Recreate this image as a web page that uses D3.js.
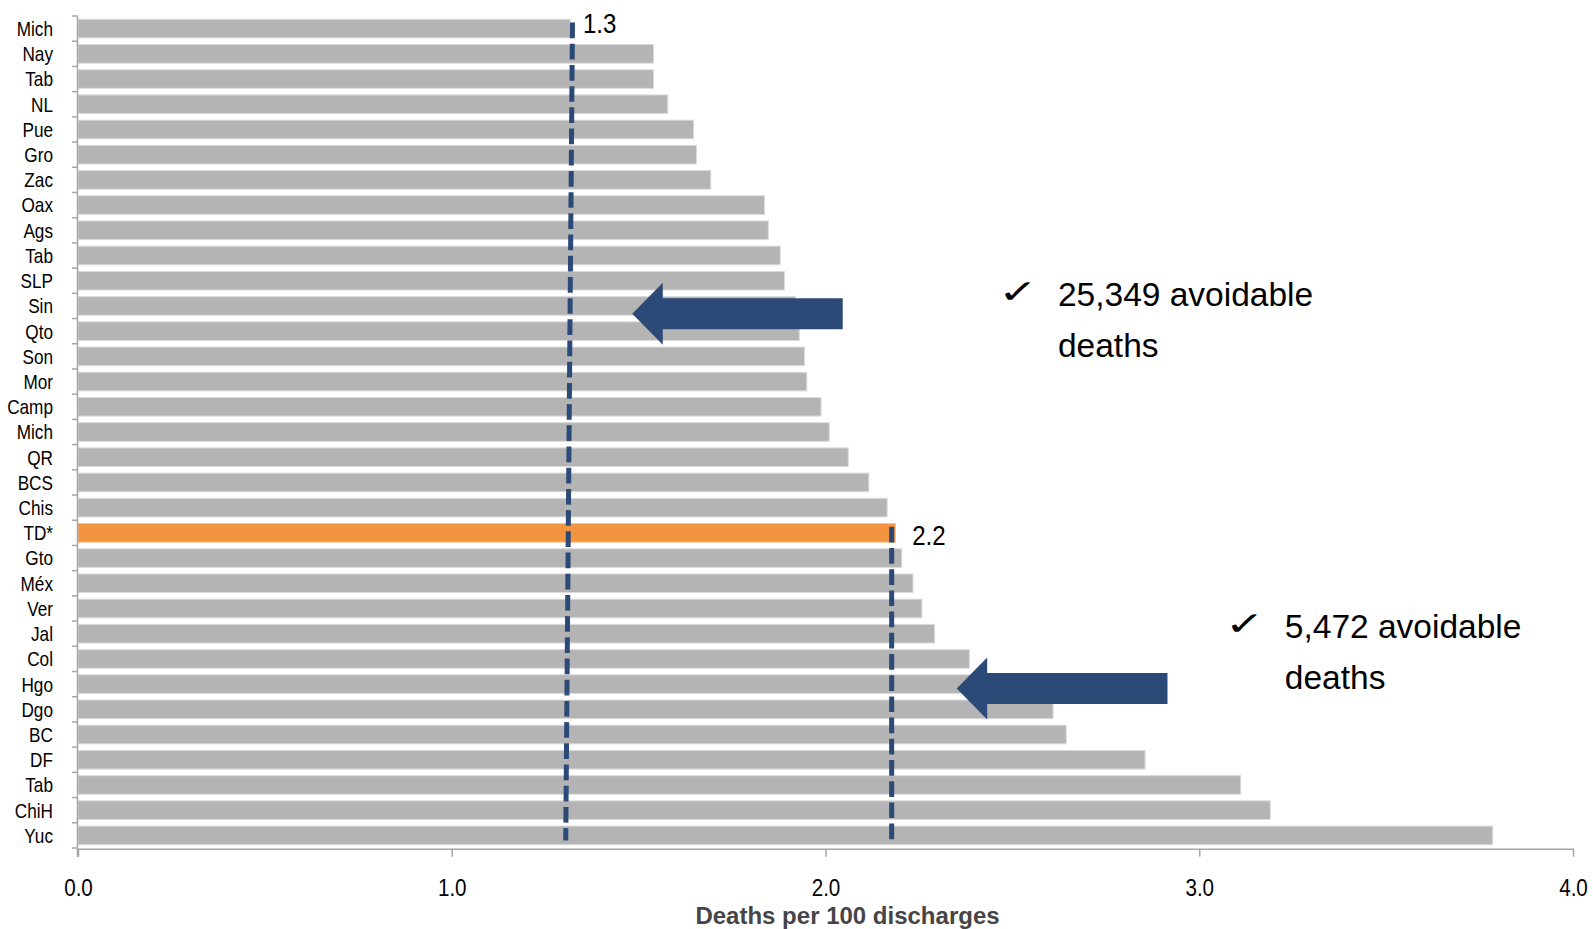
<!DOCTYPE html>
<html>
<head>
<meta charset="utf-8">
<script src="https://cdn.jsdelivr.net/npm/d3@7"></script>
<style>
  html, body { margin: 0; padding: 0; background: #fff; }
  svg { display: block; font-family: "Liberation Sans", Arial, sans-serif; }
</style>
</head>
<body>
<svg id="chart" width="1593" height="929"></svg>
<script>
// Hospital mortality by state (deaths per 100 discharges), sorted ascending
const states = ["Mich","Nay","Tab","NL","Pue","Gro","Zac","Oax","Ags","Tab","SLP","Sin","Qto","Son","Mor",
  "Camp","Mich","QR","BCS","Chis","TD*","Gto","Méx","Ver","Jal","Col","Hgo","Dgo","BC","DF","Tab","ChiH","Yuc"];
const rates = [1.317,1.540,1.540,1.578,1.647,1.655,1.693,1.837,1.847,1.879,1.890,1.920,1.930,1.944,1.950,
  1.988,2.010,2.061,2.116,2.165,2.187,2.204,2.234,2.258,2.292,2.385,2.450,2.609,2.644,2.855,3.111,3.190,3.785];
const highlight = "TD*";

const xTicks = [0, 1, 2, 3, 4];
const axisTitle = "Deaths per 100 discharges";

// Benchmark lines: best state and the national total
const refLabels = ["1.3", "2.2"];
const refTopValues = [1.323, 2.177];
const refBottomValues = [1.305, 2.177];
const refStartRows = [0.26, 20.26];
const refEndRows = [32.7, 32.87];

// Arrows pointing at the benchmarks (x in rate units, y in row units)
const arrowTips = [1.483, 2.351];
const arrowTails = [2.046, 2.915];
const arrowRows = [11.81, 26.67];

// Avoidable-death call-outs
const calloutFirst = ["25,349 avoidable", "5,472 avoidable"];
const calloutSecond = ["deaths", "deaths"];
const calloutX = [2.622, 3.229];
const calloutRows = [11.49, 24.69];

const svg = d3.select("#chart");
const x = d3.scaleLinear().domain([0, 4]).range([78, 1573]);
const y = d3.scaleBand().domain(d3.range(states.length)).range([16, 848])
  .paddingInner(0.26).paddingOuter(0.13);
const step = y.step();
const rowY = r => 16 + r * step;   // continuous row position

const axisColor = "#a6a6a6";
const blue = "#2b4a77";
const narrow = 0.86;               // horizontal squeeze for the chart's condensed lettering

// Bars
svg.append("g").selectAll("rect").data(rates).join("rect")
  .attr("x", x(0))
  .attr("y", (d, i) => y(i))
  .attr("width", d => x(d) - x(0))
  .attr("height", y.bandwidth())
  .attr("fill", (d, i) => states[i] === highlight ? "#f39441" : "#b4b4b4")
  .attr("stroke", (d, i) => states[i] === highlight ? "#f7c08f" : "#dcdcdc")
  .attr("stroke-width", 1);

// Category axis: line, boundary ticks and labels
const yAxis = svg.append("g");
yAxis.append("line")
  .attr("x1", x(0) - 0.5).attr("x2", x(0) - 0.5)
  .attr("y1", 16).attr("y2", 857)
  .attr("stroke", axisColor).attr("stroke-width", 1.5);
yAxis.selectAll("line.tick").data(d3.range(states.length + 1)).join("line")
  .attr("class", "tick")
  .attr("x1", x(0) - 6).attr("x2", x(0))
  .attr("y1", i => rowY(i))
  .attr("y2", i => rowY(i))
  .attr("stroke", axisColor).attr("stroke-width", 1.5);
yAxis.selectAll("text").data(states).join("text")
  .attr("transform", (d, i) => `translate(53,${y(i) + y.bandwidth() / 2}) scale(${narrow},1)`)
  .attr("dy", "0.37em")
  .attr("text-anchor", "end")
  .attr("font-size", 20)
  .attr("fill", "#000")
  .text(d => d);

// Value axis
const xAxis = svg.append("g").attr("transform", "translate(0,848.7)")
  .call(d3.axisBottom(x).tickValues(xTicks).tickFormat(d3.format(".1f"))
    .tickSize(8).tickPadding(22.5).tickSizeOuter(0));
xAxis.select(".domain").attr("stroke", axisColor).attr("stroke-width", 1.5);
xAxis.selectAll(".tick line").attr("stroke", axisColor).attr("stroke-width", 1.5);
xAxis.selectAll(".tick text")
  .attr("font-family", "Liberation Sans, Arial, sans-serif")
  .attr("font-size", 24).attr("fill", "#000")
  .attr("transform", `scale(${narrow},1)`);

svg.append("text")
  .attr("x", (x(0) + x(4)) / 2 + 22)
  .attr("y", 923.5)
  .attr("text-anchor", "middle")
  .attr("font-size", 24)
  .attr("font-weight", "bold")
  .attr("fill", "#454545")
  .text(axisTitle);

// Benchmark dashed lines
const refLabelDx = [10.5, 20.5];
const refLabelDy = [10, 18.5];
const refs = svg.append("g");
refLabels.forEach((lab, i) => {
  refs.append("line")
    .attr("x1", x(refTopValues[i])).attr("x2", x(refBottomValues[i]))
    .attr("y1", rowY(refStartRows[i])).attr("y2", rowY(refEndRows[i]))
    .attr("stroke", blue).attr("stroke-width", 5)
    .attr("stroke-dasharray", "15.7 5.5");
  refs.append("text")
    .attr("transform", `translate(${x(refTopValues[i]) + refLabelDx[i]},${rowY(refStartRows[i]) + refLabelDy[i]}) scale(${narrow},1)`)
    .attr("font-size", 28)
    .attr("fill", "#000")
    .text(lab);
});

// Arrows
const arrows = svg.append("g");
arrowTips.forEach((tip, i) => {
  const tx = x(tip), ex = x(arrowTails[i]), cy = rowY(arrowRows[i]);
  const headLen = 30.5, headHalf = 31, shaftHalf = 15.5;
  const pts = [
    [tx, cy], [tx + headLen, cy - headHalf], [tx + headLen, cy - shaftHalf],
    [ex, cy - shaftHalf], [ex, cy + shaftHalf], [tx + headLen, cy + shaftHalf],
    [tx + headLen, cy + headHalf]
  ];
  arrows.append("path")
    .attr("d", d3.line()(pts) + "Z")
    .attr("fill", blue);
});

// Call-out text
const callouts = svg.append("g");
calloutFirst.forEach((t, i) => {
  const tx = x(calloutX[i]), by = rowY(calloutRows[i]);
  callouts.append("text")
    .attr("transform", `translate(${tx - 60},${by - 3}) scale(1.45,1)`)
    .attr("font-family", "DejaVu Sans, sans-serif")
    .attr("font-size", 33)
    .attr("font-weight", "bold")
    .attr("fill", "#000")
    .text("\u2713");
  callouts.append("text")
    .attr("x", tx).attr("y", by)
    .attr("font-size", 33.5).attr("fill", "#000")
    .text(t);
  callouts.append("text")
    .attr("x", tx).attr("y", by + 51)
    .attr("font-size", 33.5).attr("fill", "#000")
    .text(calloutSecond[i]);
});
</script>
</body>
</html>
